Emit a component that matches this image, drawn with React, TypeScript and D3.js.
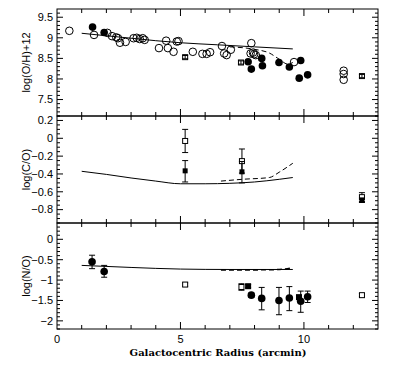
import React from 'react'
import * as d3 from 'd3'

type Pt = [number, number]
type ErrPt = [number, number, number, number] // x, y, low, high

// O/H panel
const ohOpen: Pt[] = [
  [0.5, 9.17], [1.5, 9.07], [2.04, 9.12], [2.23, 9.04], [2.4, 9.01], [2.47, 8.99],
  [2.55, 8.88], [2.78, 8.9], [3.1, 8.99], [3.23, 9.0], [3.35, 8.97], [3.47, 8.99],
  [3.55, 8.95], [4.13, 8.75], [4.42, 8.93], [4.49, 8.75], [4.72, 8.66], [4.85, 8.91],
  [4.92, 8.92], [5.5, 8.66], [5.89, 8.61], [6.06, 8.61], [6.2, 8.65], [6.68, 8.8],
  [6.77, 8.62], [6.87, 8.58], [7.04, 8.71], [7.87, 8.87], [7.84, 8.62], [7.94, 8.64],
  [7.98, 8.6], [8.05, 8.58], [9.6, 8.41], [11.61, 8.2], [11.61, 8.12], [11.61, 7.98]
]
const ohFilled: Pt[] = [
  [1.44, 9.26], [1.91, 9.13], [7.74, 8.42], [7.87, 8.24], [8.29, 8.5], [8.32, 8.32],
  [8.99, 8.4], [9.41, 8.29], [9.87, 8.45], [9.81, 8.02], [10.15, 8.1]
]
const ohSquare: ErrPt[] = [[5.19, 8.53, 8.49, 8.57], [7.45, 8.4, 8.36, 8.44], [12.35, 8.07, 8.03, 8.11]]
const ohSolid: Pt[] = [[1.0, 9.11], [2.5, 9.02], [4.0, 8.93], [5.0, 8.88], [6.5, 8.83], [8.0, 8.78], [9.55, 8.73]]
const ohDashed: Pt[] = [[7.0, 8.78], [8.0, 8.72], [8.6, 8.63], [9.0, 8.48], [9.35, 8.36], [9.55, 8.4]]

// C/O panel
const coOpenSq: ErrPt[] = [[5.19, -0.03, -0.16, 0.1], [7.49, -0.256, -0.39, -0.12], [12.35, -0.66, -0.71, -0.61]]
const coFilledSq: ErrPt[] = [[5.19, -0.365, -0.49, -0.25], [7.49, -0.376, -0.5, -0.26], [12.35, -0.695, -0.72, -0.67]]
const coSolid: Pt[] = [[1.0, -0.37], [2.0, -0.405], [3.0, -0.445], [4.0, -0.48], [5.0, -0.51], [6.0, -0.51], [7.0, -0.505], [8.0, -0.49], [9.0, -0.46], [9.55, -0.44]]
const coDashed: Pt[] = [[6.64, -0.48], [7.5, -0.46], [8.6, -0.44], [9.0, -0.38], [9.55, -0.28]]

// N/O panel
const noFilled: ErrPt[] = [
  [1.42, -0.55, -0.72, -0.39], [1.91, -0.79, -0.93, -0.64], [7.87, -1.37, -1.42, -1.32],
  [8.29, -1.45, -1.73, -1.18], [8.99, -1.5, -1.85, -1.18], [9.41, -1.44, -1.75, -1.16],
  [9.87, -1.52, -1.79, -1.27], [10.15, -1.41, -1.55, -1.27]
]
const noFilledSq: ErrPt[] = [[7.74, -1.15, -1.19, -1.11], [9.8, -1.42, -1.47, -1.37]]
const noOpenSq: ErrPt[] = [[5.19, -1.11, -1.15, -1.07], [7.47, -1.17, -1.25, -1.09], [12.35, -1.37, -1.41, -1.33]]
const noSolid: Pt[] = [[1.0, -0.64], [3.0, -0.69], [5.0, -0.73], [7.0, -0.74], [9.55, -0.74]]
const noDashed: Pt[] = [[6.64, -0.75], [8.0, -0.75], [9.0, -0.74], [9.55, -0.7]]

const ohTicks = [7.5, 8, 8.5, 9, 9.5]
const coTicks = [-0.8, -0.6, -0.4, -0.2, 0, 0.2]
const noTicks = [-2, -1.5, -1, -0.5, 0]
const xLabels = [0, 5, 10]

const left = 57
const right = 378
const font = '"Liberation Sans", Arial, sans-serif'

const x = d3.scaleLinear().domain([0, 13]).range([left, right])

const panels = [
  { top: 9, bottom: 116, domain: [7.1, 9.7], ticks: ohTicks, minor: 0.1, title: 'log(O/H)+12', fmt: (v: number) => String(v) },
  { top: 116, bottom: 223, domain: [-0.95, 0.25], ticks: coTicks, minor: 0.05, title: 'log(C/O)', fmt: (v: number) => d3.format('.1f')(v).replace('-', '\u2212').replace(/^0\.0$/, '0') },
  { top: 223, bottom: 329, domain: [-2.2, 0.4], ticks: noTicks, minor: 0.1, title: 'log(N/O)', fmt: (v: number) => String(v).replace('-', '\u2212') }
]

const line = (y: d3.ScaleLinear<number, number>) =>
  d3.line<Pt>().x(d => x(d[0])).y(d => y(d[1])).curve(d3.curveMonotoneX)

function Frame({ p, y }: { p: typeof panels[0]; y: d3.ScaleLinear<number, number> }) {
  const xt = d3.range(1, 13)
  const minors = d3.range(Math.ceil(p.domain[0] / p.minor), Math.floor(p.domain[1] / p.minor) + 1).map(i => +(i * p.minor).toFixed(3))
  const isMajor = (v: number) => p.ticks.some(t => Math.abs(t - v) < 1e-6)
  return (
    <g stroke="#000" strokeWidth={1}>
      <rect x={left} y={p.top} width={right - left} height={p.bottom - p.top} fill="none" />
      {xt.map(t => {
        const len = t % 5 === 0 ? 7 : 4
        return (
          <g key={t}>
            <line x1={x(t)} x2={x(t)} y1={p.bottom} y2={p.bottom - len} />
            <line x1={x(t)} x2={x(t)} y1={p.top} y2={p.top + len} />
          </g>
        )
      })}
      {minors.map(v => {
        const len = isMajor(v) ? 6 : 3
        return (
          <g key={v}>
            <line x1={left} x2={left + len} y1={y(v)} y2={y(v)} />
            <line x1={right} x2={right - len} y1={y(v)} y2={y(v)} />
          </g>
        )
      })}
      {p.ticks.map(t => (
        <text key={t} x={53} y={y(t)} dy="0.35em" textAnchor="end" stroke="none" fill="#000" fontFamily={font} fontSize={11}>
          {p.fmt(t)}
        </text>
      ))}
      <text transform={`translate(26,${(p.top + p.bottom) / 2}) rotate(-90)`} textAnchor="middle" dy="0.35em" stroke="none" fill="#000" fontFamily={font} fontSize={11}>
        {p.title}
      </text>
    </g>
  )
}

function ErrBar({ d, y }: { d: ErrPt; y: d3.ScaleLinear<number, number> }) {
  const cx = x(d[0])
  return (
    <g stroke="#000" strokeWidth={1}>
      <line x1={cx} x2={cx} y1={y(d[2])} y2={y(d[3])} />
      <line x1={cx - 3} x2={cx + 3} y1={y(d[2])} y2={y(d[2])} />
      <line x1={cx - 3} x2={cx + 3} y1={y(d[3])} y2={y(d[3])} />
    </g>
  )
}

export default function App() {
  const ys = panels.map(p => d3.scaleLinear().domain(p.domain).range([p.bottom, p.top]))
  const [yOH, yCO, yNO] = ys
  return (
    <svg width={400} height={367} style={{ position: 'absolute', left: 0, top: 0, background: '#fff' }}>
      <rect width={400} height={367} fill="#fff" />
      {panels.map((p, i) => <Frame key={i} p={p} y={ys[i]} />)}

      {/* O/H */}
      <path d={line(yOH)(ohSolid)!} fill="none" stroke="#000" strokeWidth={1} />
      <path d={line(yOH)(ohDashed)!} fill="none" stroke="#000" strokeWidth={1} strokeDasharray="5,3" />
      {ohOpen.map((d, i) => <circle key={i} cx={x(d[0])} cy={yOH(d[1])} r={3.8} fill="#fff" fillOpacity={0} stroke="#000" strokeWidth={1} />)}
      {ohFilled.map((d, i) => <circle key={i} cx={x(d[0])} cy={yOH(d[1])} r={3.8} fill="#000" />)}
      {ohSquare.map((d, i) => (
        <g key={i}>
          <rect x={x(d[0]) - 2.5} y={yOH(d[1]) - 2.5} width={5} height={5} fill="#fff" stroke="#000" />
          <ErrBar d={d} y={yOH} />
        </g>
      ))}

      {/* C/O */}
      <path d={line(yCO)(coSolid)!} fill="none" stroke="#000" strokeWidth={1} />
      <path d={line(yCO)(coDashed)!} fill="none" stroke="#000" strokeWidth={1} strokeDasharray="5,3" />
      {coOpenSq.map((d, i) => (
        <g key={i}>
          <ErrBar d={d} y={yCO} />
          <rect x={x(d[0]) - 2.5} y={yCO(d[1]) - 2.5} width={5} height={5} fill="#fff" stroke="#000" />
        </g>
      ))}
      {coFilledSq.map((d, i) => (
        <g key={i}>
          <ErrBar d={d} y={yCO} />
          <rect x={x(d[0]) - 2.5} y={yCO(d[1]) - 2.5} width={5} height={5} fill="#000" />
        </g>
      ))}

      {/* N/O */}
      <path d={line(yNO)(noSolid)!} fill="none" stroke="#000" strokeWidth={1} />
      <path d={line(yNO)(noDashed)!} fill="none" stroke="#000" strokeWidth={1.5} strokeDasharray="5,3" />
      {noOpenSq.map((d, i) => (
        <g key={i}>
          <ErrBar d={d} y={yNO} />
          <rect x={x(d[0]) - 2.5} y={yNO(d[1]) - 2.5} width={5} height={5} fill="#fff" stroke="#000" />
        </g>
      ))}
      {noFilledSq.map((d, i) => (
        <g key={i}>
          <ErrBar d={d} y={yNO} />
          <rect x={x(d[0]) - 3} y={yNO(d[1]) - 3} width={6} height={6} fill="#000" />
        </g>
      ))}
      {noFilled.map((d, i) => (
        <g key={i}>
          <ErrBar d={d} y={yNO} />
          <circle cx={x(d[0])} cy={yNO(d[1])} r={3.8} fill="#000" />
        </g>
      ))}

      {xLabels.map(t => (
        <text key={t} x={x(t)} y={343} textAnchor="middle" fontFamily={font} fontSize={11} fill="#000">{t}</text>
      ))}
      <text x={218} y={356} textAnchor="middle" fontFamily='"DejaVu Serif", serif' fontWeight="bold" fontSize={10} fill="#000">
        Galactocentric Radius (arcmin)
      </text>
    </svg>
  )
}
